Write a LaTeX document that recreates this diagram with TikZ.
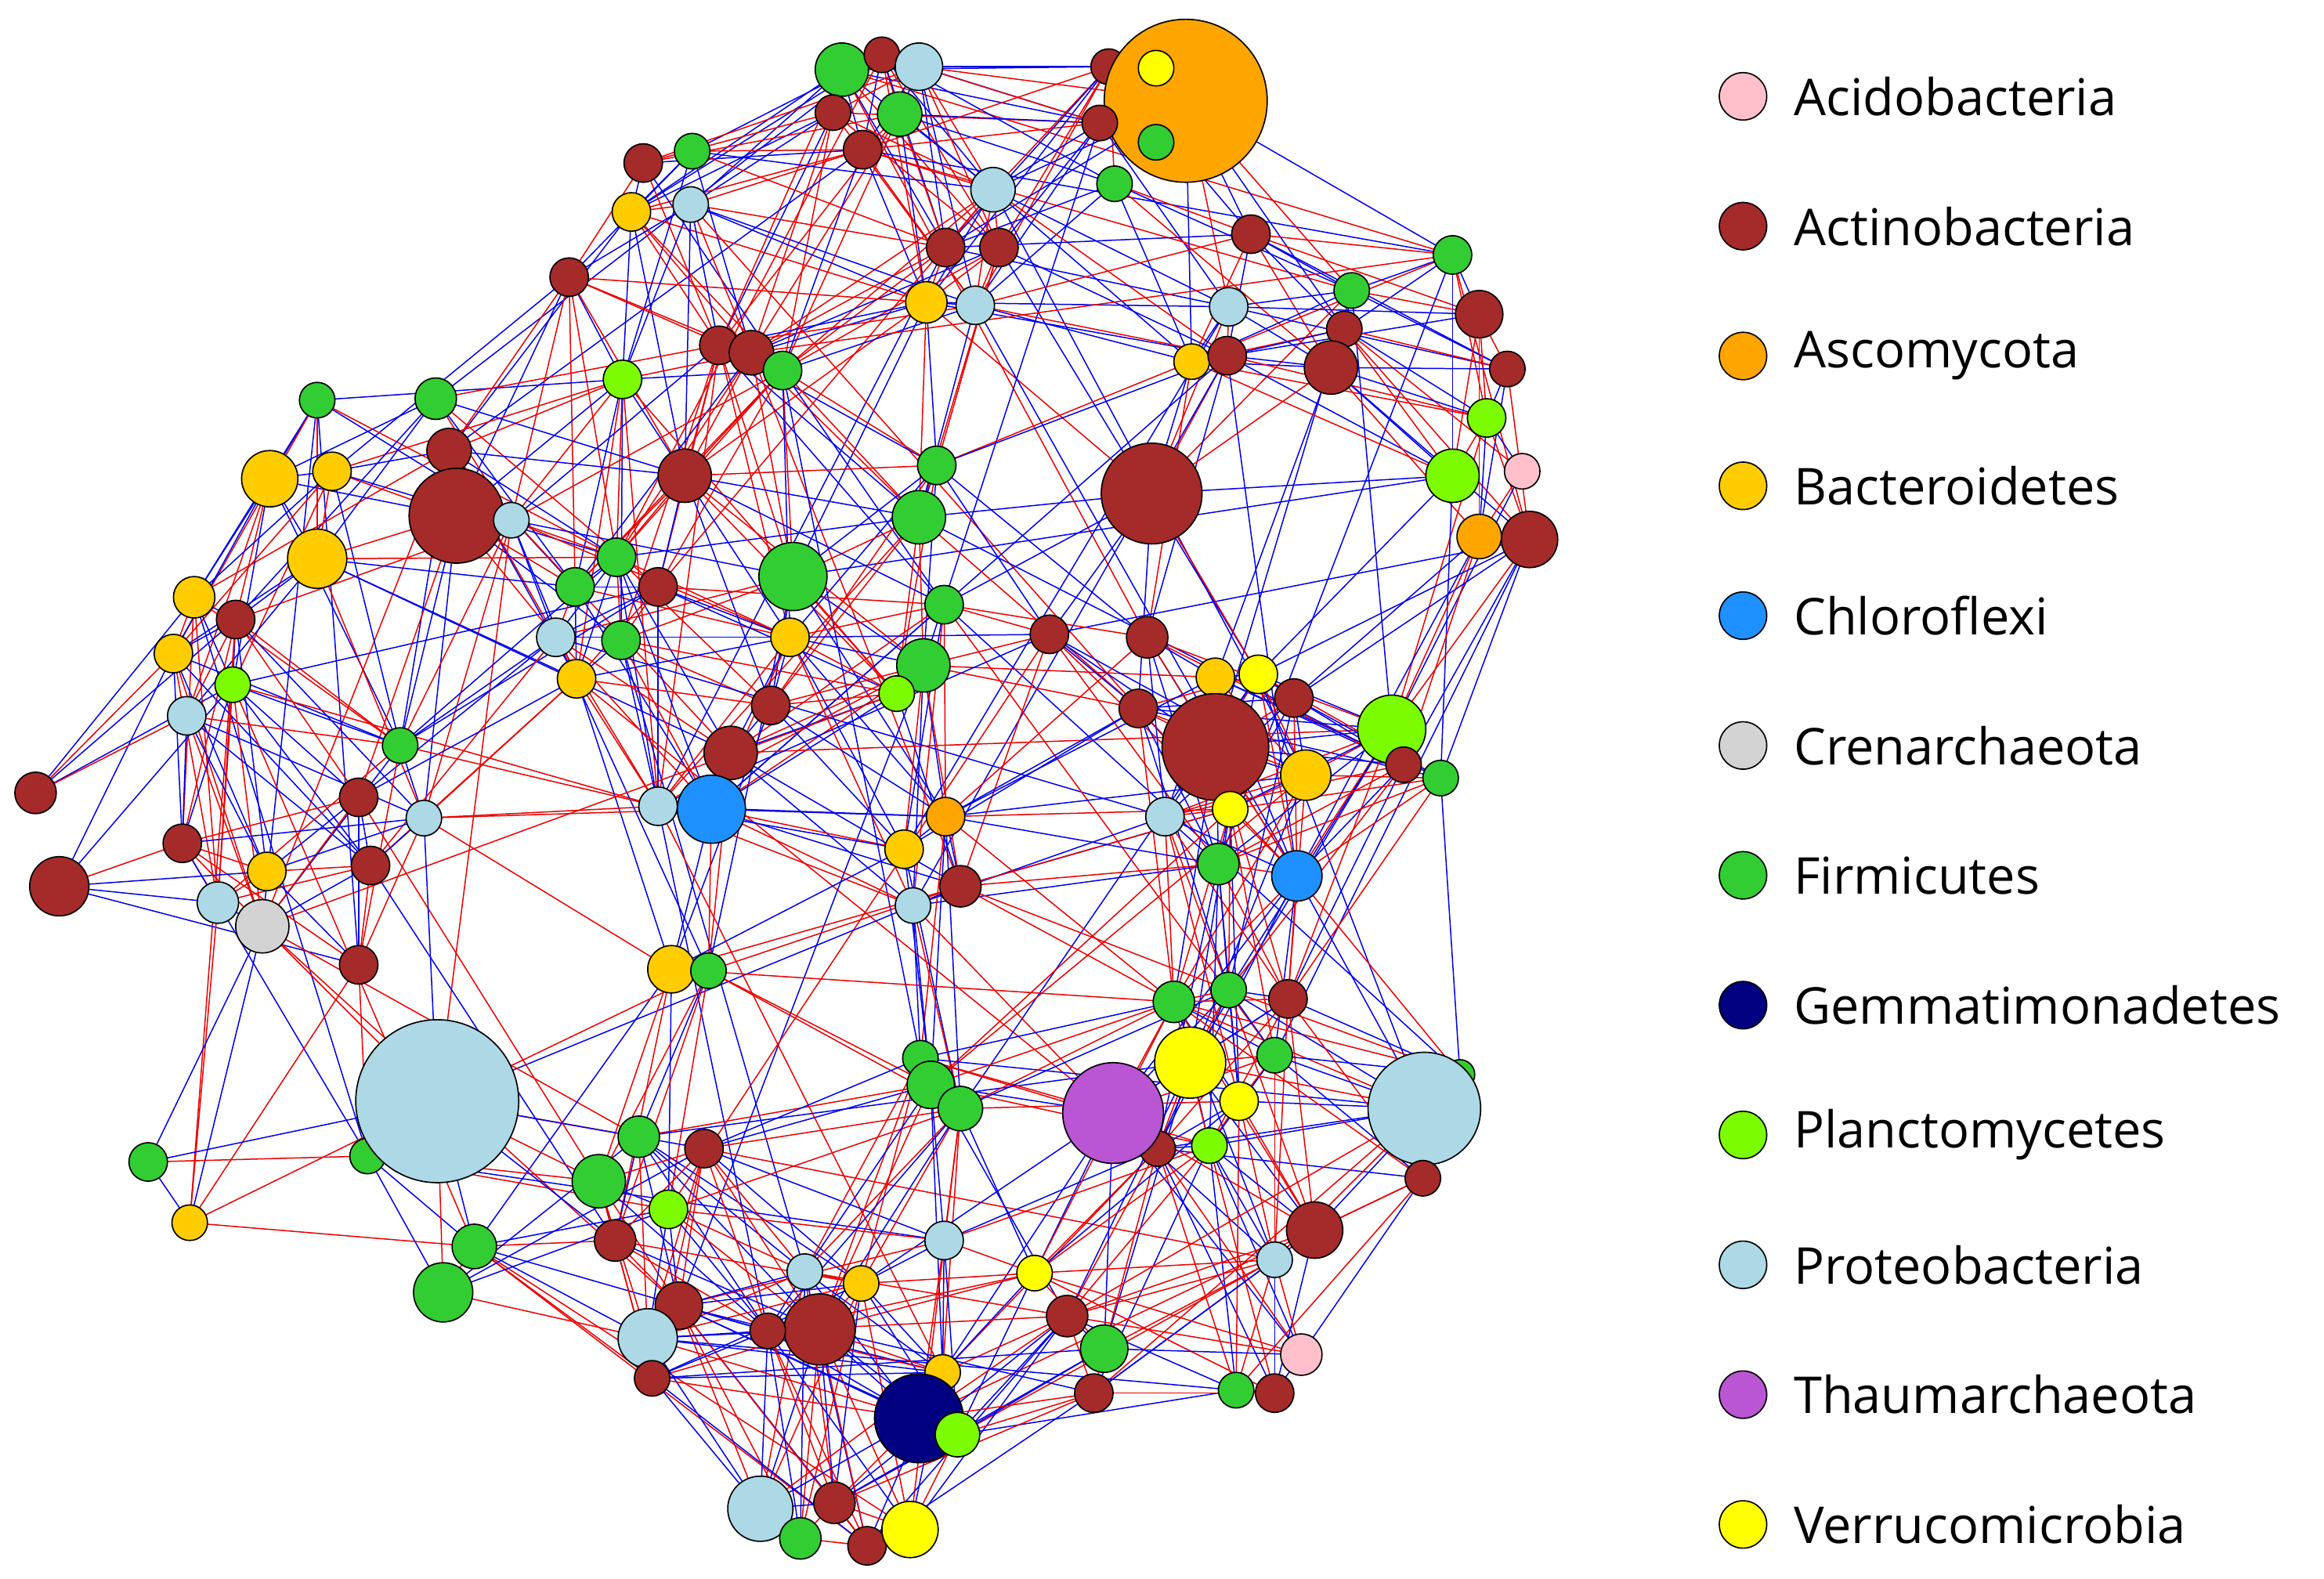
\documentclass[tikz,border=0pt]{standalone}
\usepackage{fontspec}
\setmainfont{Open Sans}
\definecolor{colP}{RGB}{255,192,203}
\definecolor{colA}{RGB}{165,42,42}
\definecolor{colO}{RGB}{255,165,0}
\definecolor{colB}{RGB}{255,204,0}
\definecolor{colC}{RGB}{30,144,255}
\definecolor{colR}{RGB}{211,211,211}
\definecolor{colF}{RGB}{50,205,50}
\definecolor{colG}{RGB}{0,0,128}
\definecolor{colL}{RGB}{124,252,0}
\definecolor{colQ}{RGB}{173,216,230}
\definecolor{colT}{RGB}{186,85,211}
\definecolor{colV}{RGB}{255,255,0}
\definecolor{ered}{RGB}{235,0,0}
\definecolor{eblue}{RGB}{0,0,235}
\tikzset{
  nd/.style={circle,draw=black,line width=0.5pt,inner sep=0pt},
  edge/.style={line width=0.45pt},
  leg/.style={anchor=west,inner sep=0pt,font=\fontsize{19.5}{24}\selectfont}
}
\def\nodelist{568/47/18/F,595/37/12/A,620/45/16/Q,562/76/12/A,607/77/15/F,582/101/13/A,748/45/12/A,800/68/55/O,742/83/12/A,752/124/12/F,670/128/15/Q,638/167/13/A,674/167/13/A,625/204/14/B,658/206/13/Q,434/110/13/A,467/102/12/F,426/143/13/B,466/138/12/Q,384/187/13/A,420/256/13/L,485/233/13/A,507/238/15/A,528/250/13/F,844/158/13/A,980/172/13/F,912/196/12/F,829/207/13/Q,998/212/16/A,907/222/12/A,804/244/12/B,828/240/13/A,898/248/18/A,1017/249/12/A,1003/282/13/L,980/321/18/L,1027/318/12/P,998/362/15/O,1032/364/19/A,777/333/34/A,632/314/13/F,620/349/18/F,214/270/12/F,294/269/14/F,303/304/15/A,182/323/19/B,224/318/13/B,308/348/32/A,345/351/12/Q,214/377/20/B,462/321/18/A,535/389/23/F,131/403/14/B,159/418/13/A,117/441/13/B,157/462/12/L,126/483/13/Q,388/396/13/F,416/376/13/F,444/396/13/A,419/432/13/F,375/430/13/Q,389/458/13/B,637/408/13/F,533/430/13/B,623/449/18/F,605/468/12/L,520/476/13/A,493/508/18/A,480/546/23/C,444/544/13/Q,708/428/13/A,774/430/14/A,768/478/13/A,820/457/13/B,849/455/13/V,873/471/13/A,820/504/36/A,881/523/17/B,939/492/23/L,947/516/12/A,972/525/12/F,786/551/13/Q,830/546/12/V,875/591/17/C,822/583/14/F,638/551/13/O,610/573/13/B,648/598/14/A,616/611/12/Q,270/503/12/F,242/538/13/A,286/552/12/Q,123/569/13/A,250/584/13/A,180/588/13/B,24/535/14/A,40/598/20/A,147/609/14/Q,177/625/18/R,242/651/13/A,453/654/16/B,478/655/12/F,248/780/12/F,295/743/55/Q,100/784/13/F,128/825/12/B,320/841/15/F,299/872/20/F,431/767/14/F,475/775/13/A,404/797/18/F,451/816/13/L,415/837/14/A,621/714/12/F,628/732/16/F,648/748/15/F,781/775/12/A,751/751/34/T,803/717/24/V,836/743/13/V,816/773/12/L,792/676/14/F,829/668/12/F,869/674/13/A,860/712/12/F,985/725/10/F,961/748/38/Q,960/795/12/A,887/830/19/A,860/850/12/Q,637/837/13/Q,698/859/12/V,720/888/14/A,745/910/16/F,878/914/14/P,834/938/12/F,860/940/13/A,738/940/13/A,543/858/12/Q,581/866/12/B,553/897/24/A,458/881/16/A,518/898/12/A,437/903/20/Q,440/930/12/A,636/926/12/B,620/957/30/G,646/968/15/L,513/1018/22/Q,540/1038/14/F,563/1014/14/A,585/1043/13/A,614/1032/19/V}
\begin{document}
\begin{tikzpicture}[x=0.02cm,y=0.02cm]
\useasboundingbox (0,0) rectangle (1568,-1065);
\pgfmathsetseed{12345}
\foreach \x/\y/\r/\c [count=\i] in \nodelist {
  \coordinate (c\i) at (\x,-\y);
  \expandafter\xdef\csname px\i\endcsname{\x}
  \expandafter\xdef\csname py\i\endcsname{\y}
  \xdef\NN{\i}
}
\foreach \i in {1,...,\NN}{
  \foreach \j in {\i,...,\NN}{
    \ifnum\j>\i
      \edef\xa{\csname px\i\endcsname}\edef\ya{\csname py\i\endcsname}
      \edef\xb{\csname px\j\endcsname}\edef\yb{\csname py\j\endcsname}
      \pgfmathsetmacro\dd{veclen(\xa-\xb,\ya-\yb)}
      \pgfmathrnd\let\ra\pgfmathresult
      \pgfmathparse{((\dd<210)*(\ra<0.62)+(\dd<480)*(\ra>0.98))>0 ? 1 : 0}
      \ifdim\pgfmathresult pt>0.5pt
        \pgfmathrnd
        \ifdim\pgfmathresult pt<0.5pt
          \draw[edge,ered] (c\i) -- (c\j);
        \else
          \draw[edge,eblue] (c\i) -- (c\j);
        \fi
      \fi
    \fi
  }
}
\foreach \x/\y/\r/\c [count=\i] in \nodelist {
  \node[nd,minimum size=\r*0.04cm,fill=col\c] (n\i) at (c\i) {};
}
\node[nd,minimum size=0.48cm,fill=colV] (ins1) at (780,-46) {};
\node[nd,minimum size=0.48cm,fill=colF] (ins2) at (780,-96) {};
\foreach \nm/\c [count=\k from 0] in {Acidobacteria/P,Actinobacteria/A,Ascomycota/O,Bacteroidetes/B,Chloroflexi/C,Crenarchaeota/R,Firmicutes/F,Gemmatimonadetes/G,Planctomycetes/L,Proteobacteria/Q,Thaumarchaeota/T,Verrucomicrobia/V}{
  \node[nd,minimum size=0.64cm,fill=col\c] (lg\k) at (1176,-65-87.6*\k) {};
  \node[leg] (lt\k) at (1210,-65-87.6*\k) {\nm};
}
\end{tikzpicture}
\end{document}
